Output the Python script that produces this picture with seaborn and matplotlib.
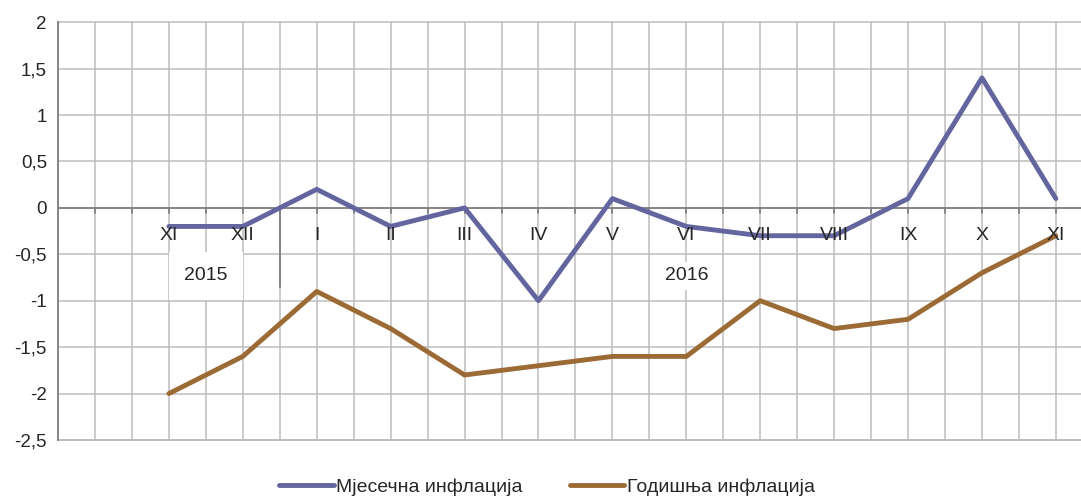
import numpy as np
import pandas as pd
import matplotlib.pyplot as plt
import seaborn as sns

# mjeseci od XI 2015 do XI 2016
mjeseci = ['XI', 'XII', 'I', 'II', 'III', 'IV', 'V', 'VI', 'VII', 'VIII', 'IX', 'X', 'XI']
mjesecna = [-0.2, -0.2, 0.2, -0.2, 0.0, -1.0, 0.1, -0.2, -0.3, -0.3, 0.1, 1.4, 0.1]
godisnja = [-2.0, -1.6, -0.9, -1.3, -1.8, -1.7, -1.6, -1.6, -1.0, -1.3, -1.2, -0.7, -0.3]
godine = ['2015', '2016']
serije = ['Мјесечна инфлација', 'Годишња инфлација']
boje = ['#63659f', '#9c6a35']

df = pd.DataFrame({
    'pos': list(range(len(mjeseci))) * 2,
    'vrijednost': mjesecna + godisnja,
    'serija': [serije[0]] * len(mjeseci) + [serije[1]] * len(mjeseci),
})

sns.set_style('white')
plt.rcParams['font.family'] = ['Liberation Sans', 'DejaVu Sans']

fig = plt.figure(figsize=(10.81, 5.04), dpi=100)
ax = fig.add_axes([0.0537, 0.127, 0.9463, 0.829])

sns.lineplot(data=df, x='pos', y='vrijednost', hue='serija', palette=boje,
             linewidth=3.5, ax=ax, legend=True, zorder=5)

ax.set_xlim(-1.5, 12.34)
ax.set_ylim(-2.5, 2)
ax.set_yticks(np.arange(-2.5, 2.01, 0.5))
ax.set_yticklabels([('%g' % v).replace('.', ',') for v in np.arange(-2.5, 2.01, 0.5)], fontsize=13.5)
ax.set_xticks(np.arange(-1.5, 12.34, 0.5))
ax.set_xticklabels([])
ax.tick_params(axis='x', length=0)
ax.tick_params(axis='y', length=5, width=1, color='#808080', pad=3, direction='out')
ax.grid(True, color='#bdbdbd', linewidth=1.1, clip_on=False)
ax.set_xlabel('')
ax.set_ylabel('')
for s in ['top', 'right', 'bottom']:
    ax.spines[s].set_visible(False)
ax.spines['left'].set_color('#808080')
ax.spines['left'].set_linewidth(1.3)
ax.axhline(-2.5, color='#bdbdbd', linewidth=1.3, clip_on=False)

# os na nuli s malim crticama
ax.axhline(0, color='#808080', linewidth=1.3, zorder=3)
for xp in np.arange(-1.0, 12.34, 0.5):
    ax.plot([xp, xp], [0, -0.05], color='#808080', linewidth=1.3, zorder=3)

for i, m in enumerate(mjeseci):
    ax.text(i, -0.3, m, ha='center', va='center', fontsize=14, zorder=6)

# razdjelnik izmedju godina
ax.plot([1.5, 1.5], [0, -0.85], color='#808080', linewidth=1.3, zorder=4)
ax.text(0.5, -0.73, godine[0], ha='center', va='center', fontsize=14, zorder=4,
        bbox=dict(facecolor='white', edgecolor='none', pad=11))
ax.text(7.0, -0.73, godine[1], ha='center', va='center', fontsize=14, zorder=4,
        bbox=dict(facecolor='white', edgecolor='none', pad=4))

ax.legend(loc='upper center', bbox_to_anchor=(0.478, -0.05), ncol=2, frameon=False,
          fontsize=14, handlelength=2.8, handletextpad=0.15, columnspacing=2.4)

plt.savefig('out.png', dpi=100)
